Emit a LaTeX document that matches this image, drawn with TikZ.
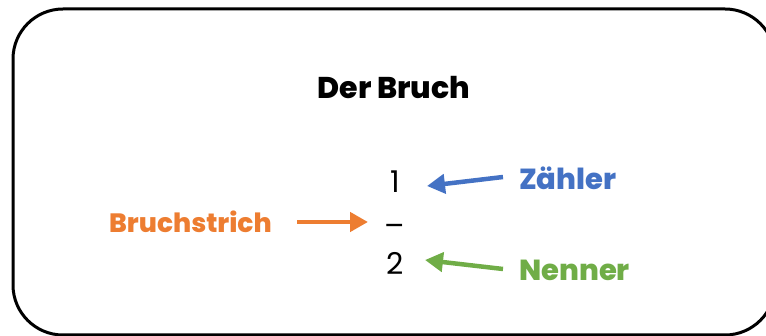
\documentclass[tikz,border=0pt]{standalone}
\usepackage{fontspec}
\setmainfont{Poppins}[BoldFont={Poppins ExtraBold}]
\usetikzlibrary{arrows.meta}
\definecolor{cblue}{RGB}{68,114,196}
\definecolor{corange}{RGB}{237,125,49}
\definecolor{cgreen}{RGB}{112,173,71}
\tikzset{
  lbl/.style={font=\bfseries\fontsize{29}{34}\selectfont, inner sep=0pt, anchor=west},
  num/.style={font=\fontsize{30}{34}\selectfont, inner sep=0pt},
  arr/.style={line width=4.5pt, -{Triangle[length=18pt,width=19pt]}},
}
\begin{document}
\begin{tikzpicture}[x=1pt,y=-1pt]
\useasboundingbox (0,0) rectangle (766,336);
\draw[line width=3pt, rounded corners=50pt] (13,9) rectangle (775,335);
\node[font=\bfseries\fontsize{30}{35}\selectfont, inner sep=0pt] (title) at (394,88) {Der Bruch};
\node[num] (one) at (395,182) {1};
\node[num] (bar) at (395,230) {–};
\node[num] (two) at (395,263) {2};
\node[lbl, text=cblue] (zaehler) at (519,178) {Zähler};
\node[lbl, text=corange, font=\bfseries\fontsize{26.5}{32}\selectfont] (bruchstrich) at (109,222) {Bruchstrich};
\node[lbl, text=cgreen] (nenner) at (519,270) {Nenner};
\draw[arr, cblue] ([xshift=-16pt,yshift=1pt]zaehler.west) -- ([xshift=32pt,yshift=-4pt]one.center);
\draw[arr, corange] ([xshift=-98pt,yshift=8pt]bar.center) -- ([xshift=-27pt,yshift=8pt]bar.center);
\draw[arr, cgreen] ([xshift=-16pt,yshift=1pt]nenner.west) -- ([xshift=30pt,yshift=3pt]two.center);
\end{tikzpicture}
\end{document}
